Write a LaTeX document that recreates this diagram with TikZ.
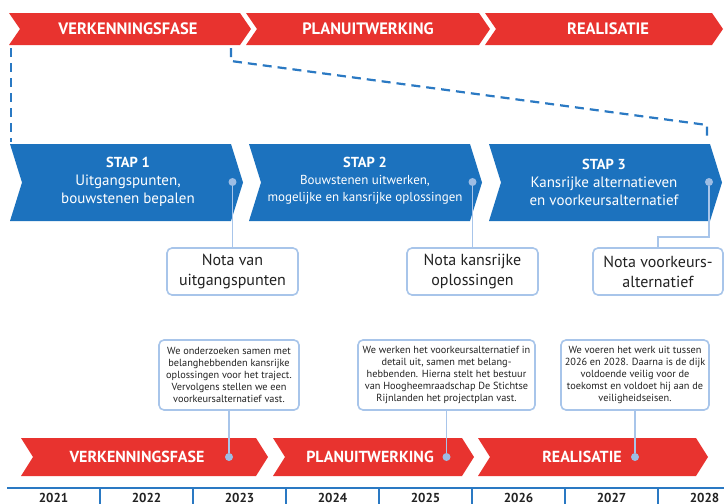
\documentclass[tikz,border=0pt]{standalone}
\usepackage{fontspec}
\setmainfont{PT Sans}
\definecolor{rd}{HTML}{E8332F}
\definecolor{bl}{HTML}{1C72BE}
\definecolor{dsh}{HTML}{2A79C3}
\definecolor{lb}{HTML}{A8C5EA}
\definecolor{dt}{HTML}{9DBDE4}
\definecolor{tx}{HTML}{222222}
\newcommand{\mychev}[6]{%
  \fill[#1] (#2,#4) -- (#3,#4) -- ({#3+#6},{(#4+#5)/2}) -- (#3,#5) -- (#2,#5) -- ({#2+#6},{(#4+#5)/2}) -- cycle;}
\begin{document}
\begin{tikzpicture}[x=1pt,y=-1pt,
  phase/.style={text=white,font=\fontsize{16.5}{18}\selectfont\bfseries},
  lowphase/.style={text=white,font=\fontsize{16}{18}\selectfont\bfseries},
  stapbox/.style={text=white,align=center,inner sep=0pt},
  nota/.style={draw=lb,line width=1.6pt,rounded corners=5pt,minimum width=131pt,minimum height=47pt,align=center,text=tx,font=\fontsize{16}{20}\selectfont,inner sep=0pt},
  desc/.style={draw=lb,line width=1.6pt,rounded corners=5pt,minimum height=70pt,align=center,text=tx,font=\fontsize{10.3}{12}\selectfont,inner sep=0pt},
  dot/.style={circle,fill=dt,inner sep=0pt,minimum size=8pt},
  link/.style={draw=lb,line width=1.5pt},
  dashline/.style={draw=dsh,line width=2.2pt,dash pattern=on 9pt off 6pt},
  year/.style={text=tx,font=\fontsize{13}{14}\selectfont\bfseries,inner sep=0pt},
  axis/.style={draw=dsh,line width=1.5pt}]
\useasboundingbox (0,0) rectangle (724,504);
\fill[white] (0,0) rectangle (724,504);
% top red band
\mychev{rd}{9}{240}{13}{45}{11}
\mychev{rd}{246}{479}{13}{45}{11}
\mychev{rd}{485}{712}{13}{45}{11}
\node[phase] (t1) at (128,29) {VERKENNINGSFASE};
\node[phase] (t2) at (368,29) {PLANUITWERKING};
\node[phase] (t3) at (608,29) {REALISATIE};
% dashed lines
\coordinate (da) at (11,48);
\coordinate (db) at (11,142);
\coordinate (dc) at (231,48);
\coordinate (dd) at (231,61);
\coordinate (de) at (707,125);
\coordinate (df) at (707,141);
\draw[dashline] (da) -- (db);
\draw[dashline] (dc) -- (dd) -- (de) -- (df);
% blue band
\mychev{bl}{10}{231}{144}{221}{12}
\mychev{bl}{249}{470}{144}{221}{12}
\mychev{bl}{489}{710}{144}{221}{12}
\node[stapbox,font=\fontsize{15}{18}\selectfont] (s1) at (128,182) {{\fontsize{14.5}{18}\selectfont\bfseries STAP 1}\\Uitgangspunten,\\bouwstenen bepalen};
\node[stapbox,font=\fontsize{13}{17}\selectfont] (s2) at (365,181) {{\fontsize{14.5}{17}\selectfont\bfseries STAP 2}\\Bouwstenen uitwerken,\\mogelijke en kansrijke oplossingen};
\node[stapbox,font=\fontsize{15}{18}\selectfont] (s3) at (604,182) {{\fontsize{14.5}{18}\selectfont\bfseries STAP 3}\\Kansrijke alternatieven\\en voorkeursalternatief};
% nota boxes
\node[nota] (n1) at (232.5,271.5) {Nota van\\uitgangspunten};
\node[nota] (n2) at (472.5,271.5) {Nota kansrijke\\oplossingen};
\node[nota,minimum width=130pt] (n3) at (658,271.5) {Nota voorkeurs-\\alternatief};
% dots in blue band and links
\node[dot] (b1) at (232.5,182) {};
\node[dot] (b2) at (472.5,182) {};
\node[dot] (b3) at (709,182) {};
\coordinate (k3) at (658,237);
\draw[link] (b1) -- (n1);
\draw[link] (b2) -- (n2);
\draw[link] (b3) |- (k3) -- (n3);
% description boxes
\node[desc,minimum width=140pt] (p1) at (229,375) {We onderzoeken samen met\\belanghebbenden kansrijke\\oplossingen voor het traject.\\Vervolgens stellen we een\\voorkeursalternatief vast.};
\node[desc,minimum width=177pt] (p2) at (446.5,375) {We werken het voorkeursalternatief in\\detail uit, samen met belang-\\hebbenden. Hierna stelt het bestuur\\van Hoogheemraadschap De Stichtse\\Rijnlanden het projectplan vast.};
\node[desc,minimum width=148pt] (p3) at (635,375) {We voeren het werk uit tussen\\2026 en 2028. Daarna is de dijk\\voldoende veilig voor de\\toekomst en voldoet hij aan de\\veiligheidseisen.};
% bottom red band
\mychev{rd}{21}{256}{438}{476}{12}
\mychev{rd}{273}{462}{438}{476}{12}
\mychev{rd}{478}{696}{438}{476}{12}
\node[lowphase] (r1) at (137,457) {VERKENNINGSFASE};
\node[lowphase] (r2) at (370,457) {PLANUITWERKING};
\node[lowphase] (r3) at (582,457) {REALISATIE};
\node[dot] (q1) at (229,457) {};
\node[dot] (q2) at (446.5,457) {};
\node[dot] (q3) at (635,457) {};
\draw[link] (p1) -- (q1);
\draw[link] (p2) -- (q2);
\draw[link] (p3) -- (q3);
% time axis
\coordinate (ax0) at (7,488);
\coordinate (ax1) at (724,488);
\draw[axis] (ax0) -- (ax1);
\foreach \xx in {100,193,286,379,472,565,658}{
  \draw[axis] (\xx,488) -- (\xx,504);
}
\foreach \yy [count=\i from 0] in {2021,2022,2023,2024,2025,2026,2027,2028}{
  \node[year,anchor=base] (y\i) at ({53.5+93*\i},502) {\yy};
}
\end{tikzpicture}
\end{document}
